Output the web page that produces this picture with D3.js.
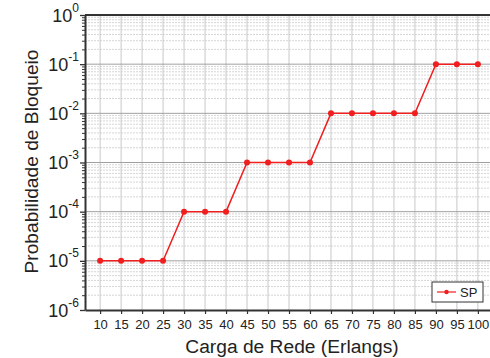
<!DOCTYPE html>
<html lang="pt">
<head>
    <meta charset="UTF-8">
    <title>Probabilidade de Bloqueio</title>
    <script src="https://d3js.org/d3.v7.min.js"></script>
    <style>
        body { margin: 0; background: #fff; }
        svg { display: block; font-family: "Liberation Sans", Arial, sans-serif; }
    </style>
</head>
<body>
    <svg id="chart" width="490" height="358"></svg>

    <script>
        // Data
        const loads = [10, 15, 20, 25, 30, 35, 40, 45, 50, 55, 60, 65, 70, 75, 80, 85, 90, 95, 100];
        const blocking = [1e-5, 1e-5, 1e-5, 1e-5, 1e-4, 1e-4, 1e-4, 1e-3, 1e-3, 1e-3, 1e-3,
                          1e-2, 1e-2, 1e-2, 1e-2, 1e-2, 1e-1, 1e-1, 1e-1];
        const seriesName = "SP";
        const yExponents = [0, -1, -2, -3, -4, -5, -6];

        const svg = d3.select("#chart");
        const plotLeft = 85, plotTop = 15, plotBottom = 310, plotRight = 493;

        const x = d3.scaleLinear().domain([6.4, 103.6]).range([plotLeft, plotRight]);
        const y = d3.scaleLog().domain([1e-6, 1]).range([plotBottom, plotTop]);

        // minor horizontal grid (2..9 per decade)
        const minor = [];
        for (let e = -6; e < 0; e++) {
            for (let m = 2; m <= 9; m++) minor.push(m * Math.pow(10, e));
        }
        svg.append("g").selectAll("line").data(minor).enter().append("line")
            .attr("x1", plotLeft).attr("x2", plotRight)
            .attr("y1", d => y(d)).attr("y2", d => y(d))
            .attr("stroke", "#d6d6d6").attr("stroke-width", 1)
            .attr("stroke-dasharray", "2,1");

        // vertical grid
        svg.append("g").selectAll("line").data(loads).enter().append("line")
            .attr("x1", d => x(d)).attr("x2", d => x(d))
            .attr("y1", plotTop).attr("y2", plotBottom)
            .attr("stroke", "#c8c8c8").attr("stroke-width", 1);

        // major horizontal grid
        svg.append("g").selectAll("line").data(yExponents.slice(1, -1)).enter().append("line")
            .attr("x1", plotLeft).attr("x2", plotRight)
            .attr("y1", d => y(Math.pow(10, d))).attr("y2", d => y(Math.pow(10, d)))
            .attr("stroke", "#a0a0a0").attr("stroke-width", 1);

        // axes
        const xAxis = svg.append("g")
            .attr("transform", `translate(0,${plotBottom})`)
            .call(d3.axisBottom(x).tickValues(loads).tickSize(4).tickSizeOuter(0));
        xAxis.select(".domain").attr("stroke", "#333").attr("stroke-width", 2);
        xAxis.selectAll(".tick line").attr("stroke", "#333").attr("stroke-width", 1.2);
        xAxis.selectAll(".tick text")
            .attr("font-size", 13).attr("fill", "#222").attr("dy", "0.9em")
            .attr("font-family", "Liberation Sans, Arial, sans-serif");

        const yAxis = svg.append("g")
            .attr("transform", `translate(${plotLeft},0)`)
            .call(d3.axisLeft(y).tickValues(minor).tickSize(3).tickFormat("").tickSizeOuter(0));
        yAxis.select(".domain").attr("stroke", "#333").attr("stroke-width", 2);
        yAxis.selectAll(".tick line").attr("stroke", "#333").attr("stroke-width", 1);

        const yMajor = svg.append("g")
            .attr("transform", `translate(${plotLeft},0)`)
            .call(d3.axisLeft(y).tickValues(yExponents.map(e => Math.pow(10, e))).tickSize(5).tickFormat(""));
        yMajor.select(".domain").remove();
        yMajor.selectAll(".tick line").attr("stroke", "#333").attr("stroke-width", 1.3);

        // y tick labels 10^e
        const yLabels = svg.append("g").selectAll("text").data(yExponents).enter().append("text")
            .attr("x", 79).attr("y", d => y(Math.pow(10, d)) + 6.5)
            .attr("text-anchor", "end").attr("fill", "#222");
        yLabels.append("tspan").attr("font-size", 18).text("10");
        yLabels.append("tspan").attr("font-size", 12).attr("dy", -10).text(d => d);

        // top border
        svg.append("line")
            .attr("x1", plotLeft).attr("x2", plotRight).attr("y1", plotTop).attr("y2", plotTop)
            .attr("stroke", "#333").attr("stroke-width", 2);

        // series
        const pts = loads.map((l, i) => ({ l, v: blocking[i] }));
        svg.append("path").datum(pts)
            .attr("fill", "none").attr("stroke", "#f01e1e").attr("stroke-width", 1.5)
            .attr("d", d3.line().x(d => x(d.l)).y(d => y(d.v)));
        svg.append("g").selectAll("circle").data(pts).enter().append("circle")
            .attr("cx", d => x(d.l)).attr("cy", d => y(d.v)).attr("r", 3)
            .attr("fill", "#f01e1e");

        // axis titles
        svg.append("text")
            .attr("x", 292).attr("y", 353).attr("text-anchor", "middle")
            .attr("font-size", 19.2).attr("fill", "#222")
            .text("Carga de Rede (Erlangs)");
        svg.append("text")
            .attr("transform", "translate(38,161.5) rotate(-90)")
            .attr("text-anchor", "middle")
            .attr("font-size", 19.2).attr("fill", "#222")
            .text("Probabilidade de Bloqueio");

        // legend
        const lg = svg.append("g").attr("transform", "translate(432,282)");
        lg.append("rect").attr("width", 51).attr("height", 20)
            .attr("fill", "#fff").attr("stroke", "#333").attr("stroke-width", 1);
        lg.append("line").attr("x1", 5).attr("x2", 24).attr("y1", 10).attr("y2", 10)
            .attr("stroke", "#f01e1e").attr("stroke-width", 1.2);
        lg.append("circle").attr("cx", 14.5).attr("cy", 10).attr("r", 2.2).attr("fill", "#f01e1e");
        lg.append("text").attr("x", 28).attr("y", 15).attr("font-size", 13).attr("fill", "#222")
            .text(seriesName);
    </script>
</body>
</html>
